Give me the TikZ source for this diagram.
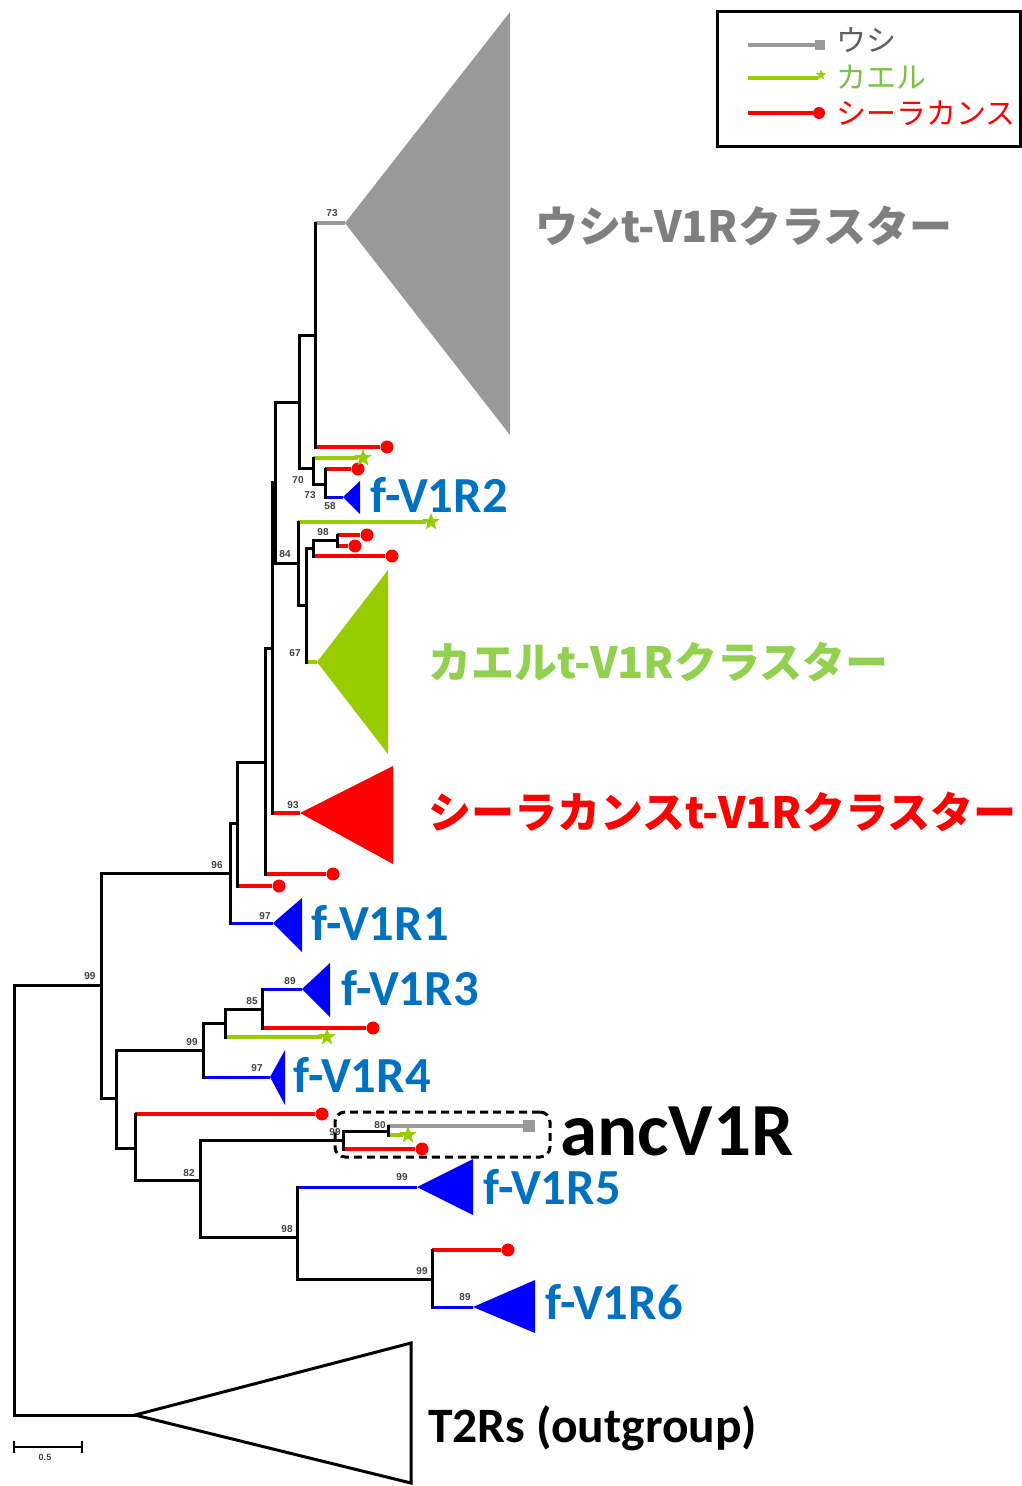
\documentclass[tikz,border=0pt]{standalone}
\usepackage{fontspec}
\usetikzlibrary{shapes.geometric}
\setmainfont{Carlito}
\newfontfamily\jpfam{Noto Sans CJK JP}
\newfontfamily\smallfam{Liberation Sans}

\definecolor{cowgray}{HTML}{999999}
\definecolor{cowtext}{HTML}{7F7F7F}
\definecolor{legtext}{HTML}{606060}
\definecolor{frog}{HTML}{99CC00}
\definecolor{frogtext}{HTML}{92D050}
\definecolor{froglegend}{HTML}{7CC242}
\definecolor{coel}{HTML}{FF0000}
\definecolor{fblue}{HTML}{0000FF}
\definecolor{ftext}{HTML}{0070C0}
\definecolor{bootc}{HTML}{404040}

\newcommand\bootfont{\smallfam\bfseries\fontsize{10}{10}\selectfont}
\newcommand\flabfont{\bfseries\fontsize{50.5}{50.5}\selectfont}
\newcommand\clabfont{\jpfam\bfseries\fontsize{43}{43}\selectfont}
\newcommand\legfont{\jpfam\fontsize{30}{30}\selectfont}

\tikzset{
  branch/.style={line width=3pt, line cap=rect, draw=black},
  hred/.style={line width=3.5pt, draw=coel},
  hgreen/.style={line width=3.5pt, draw=frog},
  hgray/.style={line width=3.5pt, draw=cowgray},
  hblue/.style={line width=3pt, draw=fblue},
  reddot/.style={circle, fill=coel, inner sep=0pt, minimum size=13pt},
  greenstar/.style={star, star points=5, star point ratio=2.4, fill=frog, inner sep=0pt, minimum size=18pt},
  graysq/.style={rectangle, fill=cowgray, inner sep=0pt, minimum size=12pt},
  boot/.style={inner sep=0pt, text=bootc, font=\bootfont},
  flab/.style={anchor=base west, inner sep=0pt, text=ftext, font=\flabfont},
  clab/.style={anchor=west, inner sep=0pt, font=\clabfont},
  leglab/.style={anchor=west, inner sep=0pt, font=\legfont},
}

\begin{document}
\begin{tikzpicture}[x=1pt,y=-1pt]
\useasboundingbox (0,0) rectangle (1022,1486);

% ---------- internal nodes of the tree ----------
\coordinate (root) at (14,1200);
\coordinate (nA) at (101,985);
\coordinate (nB) at (230,873);
\coordinate (nC) at (237,823);
\coordinate (nD) at (265,762);
\coordinate (nE) at (272,648);
\coordinate (nF) at (275,482);
\coordinate (nG) at (299,402);
\coordinate (nI) at (315,335);
\coordinate (nJ) at (313,468);
\coordinate (nK) at (325,484);
\coordinate (nH) at (298,563);
\coordinate (nM) at (306,605);
\coordinate (nN) at (313,548);
\coordinate (nO) at (337,540);
\coordinate (nL) at (116,1098);
\coordinate (nP) at (203,1050);
\coordinate (nR) at (225,1023);
\coordinate (nS) at (262,1009);
\coordinate (nQ) at (135,1148);
\coordinate (nT) at (200,1180);
\coordinate (nU) at (343,1140);
\coordinate (nW) at (388,1131);
\coordinate (nV) at (297,1237);
\coordinate (nX) at (432,1279);

% ---------- apexes of collapsed clades ----------
\coordinate (tCow)  at (345,223);
\coordinate (tFrog) at (317,662);
\coordinate (tCoel) at (300,813);
\coordinate (tF2)   at (343,497);
\coordinate (tF1)   at (273,923);
\coordinate (tF3)   at (302,989);
\coordinate (tF4)   at (270,1077);
\coordinate (tF5)   at (417,1187);
\coordinate (tF6)   at (473,1307);
\coordinate (tT2R)  at (135,1415);

% ---------- single-sequence leaves ----------
\node[reddot] (rI)  at (387,447) {};
\node[reddot] (rK)  at (358,469) {};
\node[reddot] (rN)  at (392,556) {};
\node[reddot] (rO1) at (367,535) {};
\node[reddot] (rO2) at (355,546) {};
\node[reddot] (rC)  at (279,886) {};
\node[reddot] (rD)  at (333,874) {};
\node[reddot] (rS)  at (373,1028) {};
\node[reddot] (rQ)  at (322,1114) {};
\node[reddot] (rU)  at (422,1149) {};
\node[reddot] (rX)  at (508,1250) {};
\node[greenstar] (gJ) at (363,458) {};
\node[greenstar] (gH) at (431,522) {};
\node[greenstar] (gR) at (327,1037) {};
\node[greenstar] (gW) at (408,1135) {};
\node[graysq] (sW) at (529,1126) {};

% ---------- collapsed clades ----------
\fill[cowgray] (tCow) -- (510,12) -- (510,435) -- cycle;
\fill[frog] (tFrog) -- (388,570) -- (388,754) -- cycle;
\fill[coel] (tCoel) -- (393,766) -- (393,864) -- cycle;
\fill[fblue] (tF2) -- (360,481) -- (360,514) -- cycle;
\fill[fblue] (tF1) -- (302,898) -- (302,952) -- cycle;
\fill[fblue] (tF3) -- (330,963) -- (330,1017) -- cycle;
\fill[fblue] (tF4) -- (285,1050) -- (285,1105) -- cycle;
\fill[fblue] (tF5) -- (473,1159) -- (473,1215) -- cycle;
\fill[fblue] (tF6) -- (535,1280) -- (535,1333) -- cycle;
\draw[line width=3pt, fill=white, line join=miter] (tT2R) -- (411,1343) -- (411,1483) -- cycle;

% ---------- coloured terminal branches ----------
\draw[hgray]  (nI|-tCow) -- (tCow);
\draw[hred]   (nI|-rI) -- (rI);
\draw[hgreen] (nJ|-gJ) -- (gJ);
\draw[hred]   (nK|-rK) -- (rK);
\draw[hblue]  (nK|-tF2) -- (tF2);
\draw[hgreen] (nH|-gH) -- (gH);
\draw[hred]   (nO|-rO1) -- (rO1);
\draw[hred]   (nO|-rO2) -- (rO2);
\draw[hred]   (nN|-rN) -- (rN);
\draw[hgreen] (nM|-tFrog) -- (tFrog);
\draw[hred]   (nE|-tCoel) -- (tCoel);
\draw[hred]   (nD|-rD) -- (rD);
\draw[hred]   (nC|-rC) -- (rC);
\draw[hblue]  (nB|-tF1) -- (tF1);
\draw[hblue]  (nS|-tF3) -- (tF3);
\draw[hred]   (nS|-rS) -- (rS);
\draw[hgreen] (nR|-gR) -- (gR);
\draw[hblue]  (nP|-tF4) -- (tF4);
\draw[hred]   (nQ|-rQ) -- (rQ);
\draw[hgray]  (nW|-sW) -- (sW);
\draw[hgreen] (nW|-gW) -- (gW);
\draw[hred]   (nU|-rU) -- (rU);
\draw[hblue]  (nV|-tF5) -- (tF5);
\draw[hred]   (nX|-rX) -- (rX);
\draw[hblue]  (nX|-tF6) -- (tF6);

% ---------- black internal branches ----------
\draw[branch] (root|-nA) -- (nA);
\draw[branch] (root|-tT2R) -- (tT2R);
\draw[branch] (root|-nA) -- (root|-tT2R);
\draw[branch] (nA|-nB) -- (nB);
\draw[branch] (nA|-nL) -- (nL);
\draw[branch] (nA|-nB) -- (nA|-nL);
\draw[branch] (nB|-nC) -- (nC);
\draw[branch] (nB|-nC) -- (nB|-tF1);
\draw[branch] (nC|-nD) -- (nD);
\draw[branch] (nC|-nD) -- (nC|-rC);
\draw[branch] (nD|-nE) -- (nE);
\draw[branch] (nD|-nE) -- (nD|-rD);
\draw[branch] (nE|-nF) -- (nF);
\draw[branch] (nE|-nF) -- (nE|-tCoel);
\draw[branch] (nF|-nG) -- (nG);
\draw[branch] (nF|-nH) -- (nH);
\draw[branch] (nF|-nG) -- (nF|-nH);
\draw[branch] (nG|-nI) -- (nI);
\draw[branch] (nG|-nJ) -- (nJ);
\draw[branch] (nG|-nI) -- (nG|-nJ);
\draw[branch] (nI|-tCow) -- (nI|-rI);
\draw[branch] (nJ|-nK) -- (nK);
\draw[branch] (nJ|-gJ) -- (nJ|-nK);
\draw[branch] (nK|-rK) -- (nK|-tF2);
\draw[branch] (nH|-nM) -- (nM);
\draw[branch] (nH|-gH) -- (nH|-nM);
\draw[branch] (nM|-nN) -- (nN);
\draw[branch] (nM|-nN) -- (nM|-tFrog);
\draw[branch] (nN|-nO) -- (nO);
\draw[branch] (nN|-nO) -- (nN|-rN);
\draw[branch] (nO|-rO1) -- (nO|-rO2);
\draw[branch] (nL|-nP) -- (nP);
\draw[branch] (nL|-nQ) -- (nQ);
\draw[branch] (nL|-nP) -- (nL|-nQ);
\draw[branch] (nP|-nR) -- (nR);
\draw[branch] (nP|-nR) -- (nP|-tF4);
\draw[branch] (nR|-nS) -- (nS);
\draw[branch] (nR|-nS) -- (nR|-gR);
\draw[branch] (nS|-tF3) -- (nS|-rS);
\draw[branch] (nQ|-nT) -- (nT);
\draw[branch] (nQ|-rQ) -- (nQ|-nT);
\draw[branch] (nT|-nU) -- (nU);
\draw[branch] (nT|-nV) -- (nV);
\draw[branch] (nT|-nU) -- (nT|-nV);
\draw[branch] (nU|-nW) -- (nW);
\draw[branch] (nU|-nW) -- (nU|-rU);
\draw[branch] (nW|-sW) -- (nW|-gW);
\draw[branch] (nV|-nX) -- (nX);
\draw[branch] (nV|-tF5) -- (nV|-nX);
\draw[branch] (nX|-rX) -- (nX|-tF6);

% ---------- bootstrap values ----------
\node[boot] (b1)  at (332,213)  {73};
\node[boot] (b2)  at (298,480)  {70};
\node[boot] (b3)  at (310,495)  {73};
\node[boot] (b4)  at (330,506)  {58};
\node[boot] (b5)  at (323,532)  {98};
\node[boot] (b6)  at (285,554)  {84};
\node[boot] (b7)  at (295,653)  {67};
\node[boot] (b8)  at (293,805)  {93};
\node[boot] (b9)  at (217,865)  {96};
\node[boot] (b10) at (265,916)  {97};
\node[boot] (b11) at (90,976)   {99};
\node[boot] (b12) at (290,981)  {89};
\node[boot] (b13) at (252,1001) {85};
\node[boot] (b14) at (192,1042) {99};
\node[boot] (b15) at (257,1068) {97};
\node[boot] (b16) at (380,1125) {80};
\node[boot] (b17) at (335,1132) {99};
\node[boot] (b18) at (189,1173) {82};
\node[boot] (b19) at (402,1177) {99};
\node[boot] (b20) at (287,1229) {98};
\node[boot] (b21) at (422,1271) {99};
\node[boot] (b22) at (465,1297) {89};

% ---------- ancestral group box ----------
\node[draw, dash pattern=on 8pt off 5pt, line width=3pt, rounded corners=10pt,
      minimum width=215pt, minimum height=45pt, inner sep=0pt] (ancbox) at (442.5,1134.5) {};

% ---------- clade labels ----------
\node[clab, text=cowtext]  (cowlab)  at (535,226) {ウシt-V1Rクラスター};
\node[clab, text=frogtext] (froglab) at (428,662) {カエルt-V1Rクラスター};
\node[clab, text=coel]     (coellab) at (428,812) {シーラカンスt-V1Rクラスター};
\node[flab] (f2lab) at (370,512)  {f-V1R2};
\node[flab] (f1lab) at (311,940)  {f-V1R1};
\node[flab] (f3lab) at (341,1005) {f-V1R3};
\node[flab] (f4lab) at (293,1092) {f-V1R4};
\node[flab] (f5lab) at (483,1204) {f-V1R5};
\node[flab] (f6lab) at (545,1319) {f-V1R6};
\node[anchor=base west, inner sep=0pt, font=\bfseries\fontsize{75}{75}\selectfont] (anclab) at (560,1155) {ancV1R};
\node[anchor=base west, inner sep=0pt, font=\bfseries\fontsize{49.5}{49.5}\selectfont] (t2rlab) at (428,1442) {T2Rs (outgroup)};

% ---------- scale bar ----------
\coordinate (sbL) at (14,1447);
\coordinate (sbR) at (82,1447);
\draw[line width=1.5pt] (sbL) -- (sbR);
\draw[line width=1.5pt] ([yshift=-6pt]sbL) -- ([yshift=6pt]sbL);
\draw[line width=1.5pt] ([yshift=-6pt]sbR) -- ([yshift=6pt]sbR);
\node[boot, font=\smallfam\bfseries\fontsize{9}{9}\selectfont] (sblab) at (45,1457) {0.5};

% ---------- legend ----------
\node[draw, line width=3pt, minimum width=303pt, minimum height=135pt, inner sep=0pt] (legend) at (868.5,79) {};
\coordinate (lg1) at (748,45);
\coordinate (lg2) at (748,78);
\coordinate (lg3) at (748,113);
\node[graysq, minimum size=10pt] (lgm1) at (820,45) {};
\node[greenstar, minimum size=11pt] (lgm2) at (821,75) {};
\node[reddot, minimum size=12pt] (lgm3) at (819,113) {};
\draw[line width=4pt, draw=cowgray] (lg1) -- (lgm1.west|-lg1);
\draw[line width=4pt, draw=frog] (lg2) -- (lgm2.west|-lg2);
\draw[line width=4pt, draw=coel] (lg3) -- (lgm3.west|-lg3);
\node[leglab, text=legtext]    (lgt1) at (836,40)  {ウシ};
\node[leglab, text=froglegend] (lgt2) at (836,77)  {カエル};
\node[leglab, text=coel]       (lgt3) at (836,113) {シーラカンス};
\end{tikzpicture}
\end{document}
